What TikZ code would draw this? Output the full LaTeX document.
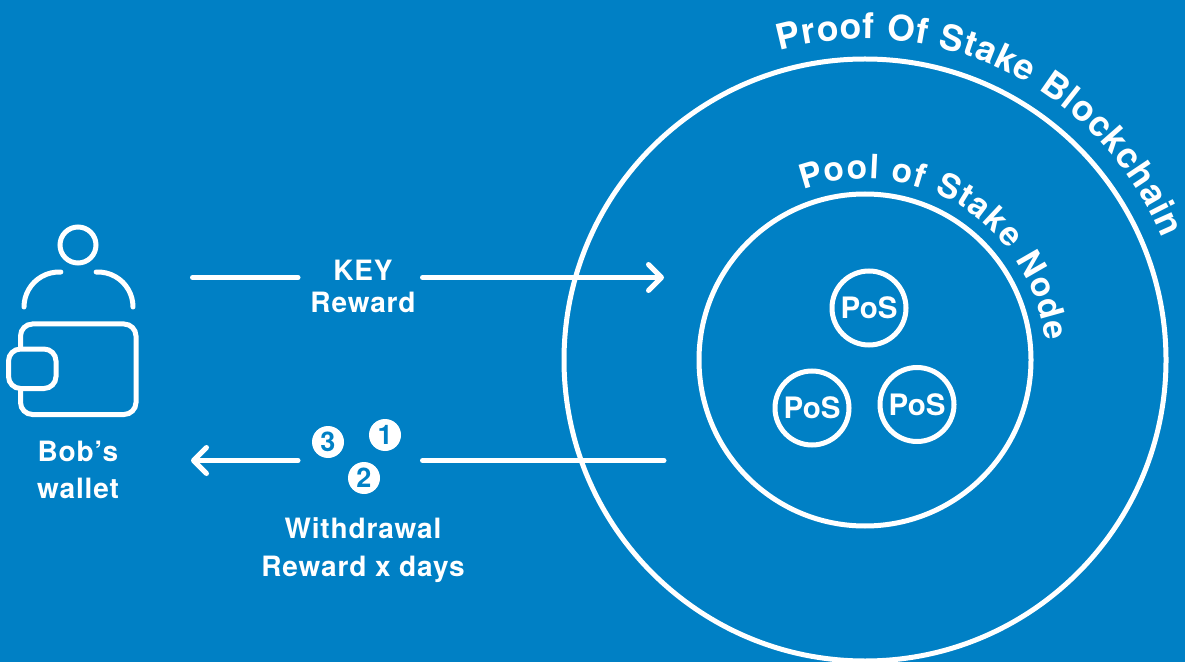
\documentclass[tikz,border=0pt]{standalone}
\usepackage{fontspec}
\setmainfont{TeX Gyre Heros}
\newfontfamily\trackfont[LetterSpace=3]{TeX Gyre Heros}
\usetikzlibrary{arrows.meta,decorations.text,calc}
\definecolor{bgblue}{HTML}{0080C5}
\newcommand{\arcfont}{\fontsize{35.5}{35.5}\selectfont\bfseries}
\newcommand{\arcfonts}{\fontsize{33.5}{33.5}\selectfont\bfseries}
\tikzset{
  x=1pt,y=1pt,
  ln/.style={draw=white,line width=5pt,line cap=round},
  chev/.style={ln,-{Straight Barb[length=13pt,width=26pt,line cap=round,round]}},
  lab/.style={text=white,font=\trackfont\fontsize{28}{37.5}\selectfont\bfseries,align=center,inner sep=0pt},
  poslab/.style={circle,draw=white,line width=5pt,minimum size=74pt,inner sep=0pt,text=white,font=\fontsize{29.5}{29.5}\selectfont\bfseries},
  numdot/.style={circle,fill=white,text=bgblue,minimum size=32pt,inner sep=0pt,font=\fontsize{27}{27}\selectfont\bfseries},
}
\begin{document}
\begin{tikzpicture}
\useasboundingbox (0,0) rectangle (1185,662);
\fill[bgblue] (0,0) rectangle (1185,662);
% circles
\coordinate (c) at (865,302);
\draw[ln] (c) circle[radius=301];
\draw[ln] (c) circle[radius=166];
\node[poslab] (p1) at (869,354) {PoS};
\node[poslab] (p2) at (812,254) {PoS};
\node[poslab] (p3) at (917,257.5) {PoS};
% curved titles
\path[decorate,decoration={text along path,text align=fit to path,text color=white,raise=0pt,
  text={|\arcfont|Proof Of Stake Blockchain}}]
  ($(c)+(105.4:321)$) arc[start angle=105.4,end angle=22.3,radius=321];
\path[decorate,decoration={text along path,text align=fit to path,text color=white,raise=0pt,
  text={|\arcfonts|Pool of Stake Node}}]
  ($(c)+(110:181)$) arc[start angle=110,end angle=6,radius=181];
% Bob
\draw[ln] (78,417) circle[radius=18];
\draw[ln] (24,355) arc[start angle=180,end angle=87,radius=35];
\draw[ln] (133,355) arc[start angle=0,end angle=93,radius=35];
\draw[ln,rounded corners=12pt] (20.5,247.5) rectangle (136,338);
\draw[ln,fill=bgblue,rounded corners=12pt] (8.5,273.5) rectangle (56,313);
\node[lab] (bob) at (78,192) {Bob’s\\wallet};
% labels
\node[lab] (key) at (363,376) {KEY\\[-5.5pt]Reward};
\node[lab] (wd) at (363,112) {Withdrawal\\Reward x days};
\node[numdot] (n1) at (385,227) {1};
\node[numdot] (n3) at (328,220) {3};
\node[numdot] (n2) at (364,184) {2};
% connectors
\coordinate (a1) at (192.5,384.5);
\coordinate (a2) at (298,384.5);
\coordinate (a3) at (422.5,384.5);
\coordinate (a4) at (664,384.5);
\coordinate (b1) at (664,201.5);
\coordinate (b2) at (422.5,201.5);
\coordinate (b3) at (298,201.5);
\coordinate (b4) at (191,201.5);
\draw[ln] (a1) -- (a2);
\draw[chev] (a3) -- (a4);
\draw[ln] (b1) -- (b2);
\draw[chev] (b3) -- (b4);
\end{tikzpicture}
\end{document}
